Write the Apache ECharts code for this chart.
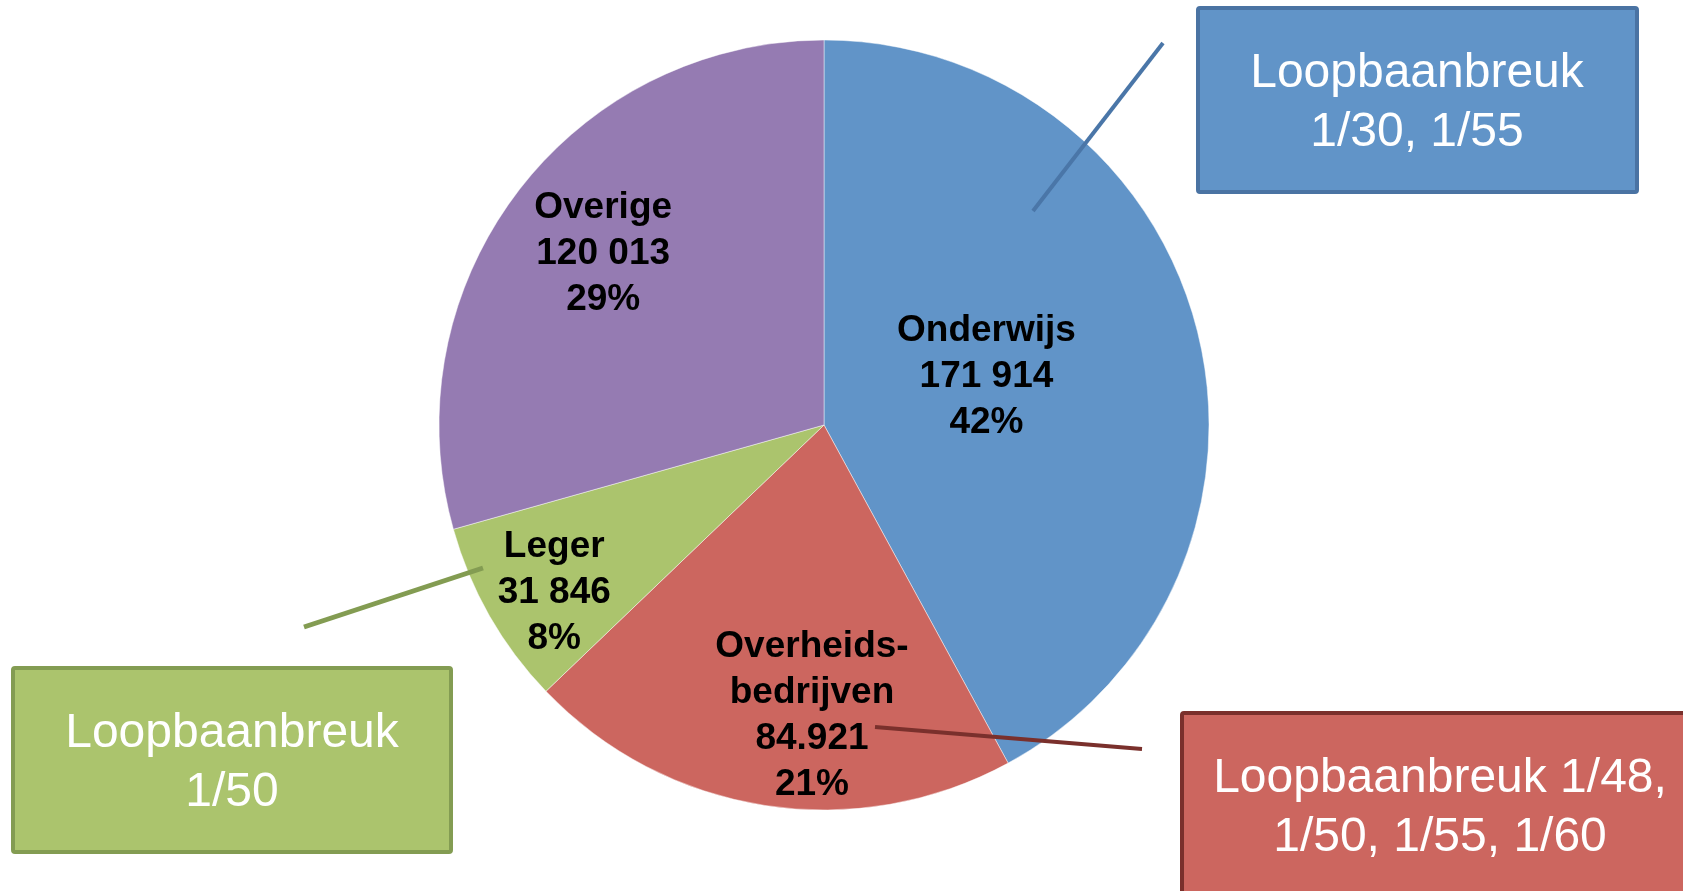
<!DOCTYPE html>
<html>
<head>
<meta charset="utf-8">
<script src="https://cdn.jsdelivr.net/npm/echarts@6/dist/echarts.min.js"></script>
<style>
html, body { margin: 0; padding: 0; background: #ffffff; }
#chart { width: 1683px; height: 891px; }
</style>
</head>
<body>
<div id="chart"></div>
<script>
// ---- data ----
const categories = ['Onderwijs', 'Overheids-\nbedrijven', 'Leger', 'Overige'];
const values = [171914, 84921, 31846, 120013];
const valueTexts = ['171 914', '84.921', '31 846', '120 013'];
const calloutTexts = ['Loopbaanbreuk\n1/30, 1/55', 'Loopbaanbreuk 1/48,\n1/50, 1/55, 1/60', 'Loopbaanbreuk\n1/50'];

// ---- styles ----
const sliceColors = ['#6194C8', '#CC665F', '#ABC46D', '#957BB2'];
const labelShift = [[-27, 0], [18, 98], [-100, 71], [-65, -53]];
const FONT = '"Liberation Sans", Arial, sans-serif';

const chart = echarts.init(document.getElementById('chart'), null, { renderer: 'canvas' });

const pieData = categories.map((c, i) => ({
  name: c,
  value: values[i],
  itemStyle: { color: sliceColors[i] }
}));

function box(x, y, w, h, fill, stroke) {
  return {
    type: 'rect', z: 20,
    shape: { x: x, y: y, width: w, height: h, r: 2 },
    style: { fill: fill, stroke: stroke, lineWidth: 4 }
  };
}
function boxText(x, y, txt) {
  return {
    type: 'text', z: 21, x: x, y: y,
    style: {
      text: txt, fill: '#ffffff', font: '48px ' + FONT,
      align: 'center', verticalAlign: 'middle', lineHeight: 59
    }
  };
}
function line(x1, y1, x2, y2, color, w) {
  return {
    type: 'line', z: 22,
    shape: { x1: x1, y1: y1, x2: x2, y2: y2 },
    style: { stroke: color, lineWidth: w }
  };
}

const option = {
  animation: false,
  backgroundColor: '#ffffff',
  series: [{
    type: 'pie',
    center: [824, 425],
    radius: [0, 385],
    startAngle: 90,
    clockwise: true,
    avoidLabelOverlap: false,
    emphasis: { disabled: true },
    itemStyle: { borderColor: 'rgba(255,255,255,0.45)', borderWidth: 1 },
    label: {
      show: true,
      position: 'inside',
      color: '#000000',
      fontFamily: FONT,
      fontWeight: 'bold',
      fontSize: 37,
      lineHeight: 46,
      align: 'center',
      formatter: function (p) {
        return p.name + '\n' + valueTexts[p.dataIndex] + '\n' + Math.round(p.percent) + '%';
      }
    },
    labelLine: { show: false },
    labelLayout: function (p) {
      const s = labelShift[p.dataIndex];
      return { dx: s[0], dy: s[1] };
    },
    data: pieData
  }],
  graphic: [
    box(1198, 8, 439, 184, '#6194C8', '#4A73A3'),
    boxText(1417, 103, calloutTexts[0]),
    box(1182, 713, 520, 200, '#CC665F', '#7A302C'),
    boxText(1440, 808, calloutTexts[1]),
    box(13, 668, 438, 184, '#ABC46D', '#839C52'),
    boxText(232, 763, calloutTexts[2]),
    line(1163, 43, 1033, 211, '#4A76A8', 4),
    line(875, 727, 1142, 749, '#7A302C', 4),
    line(304, 627, 483, 568, '#839C52', 5)
  ]
};

chart.setOption(option);
</script>
</body>
</html>
